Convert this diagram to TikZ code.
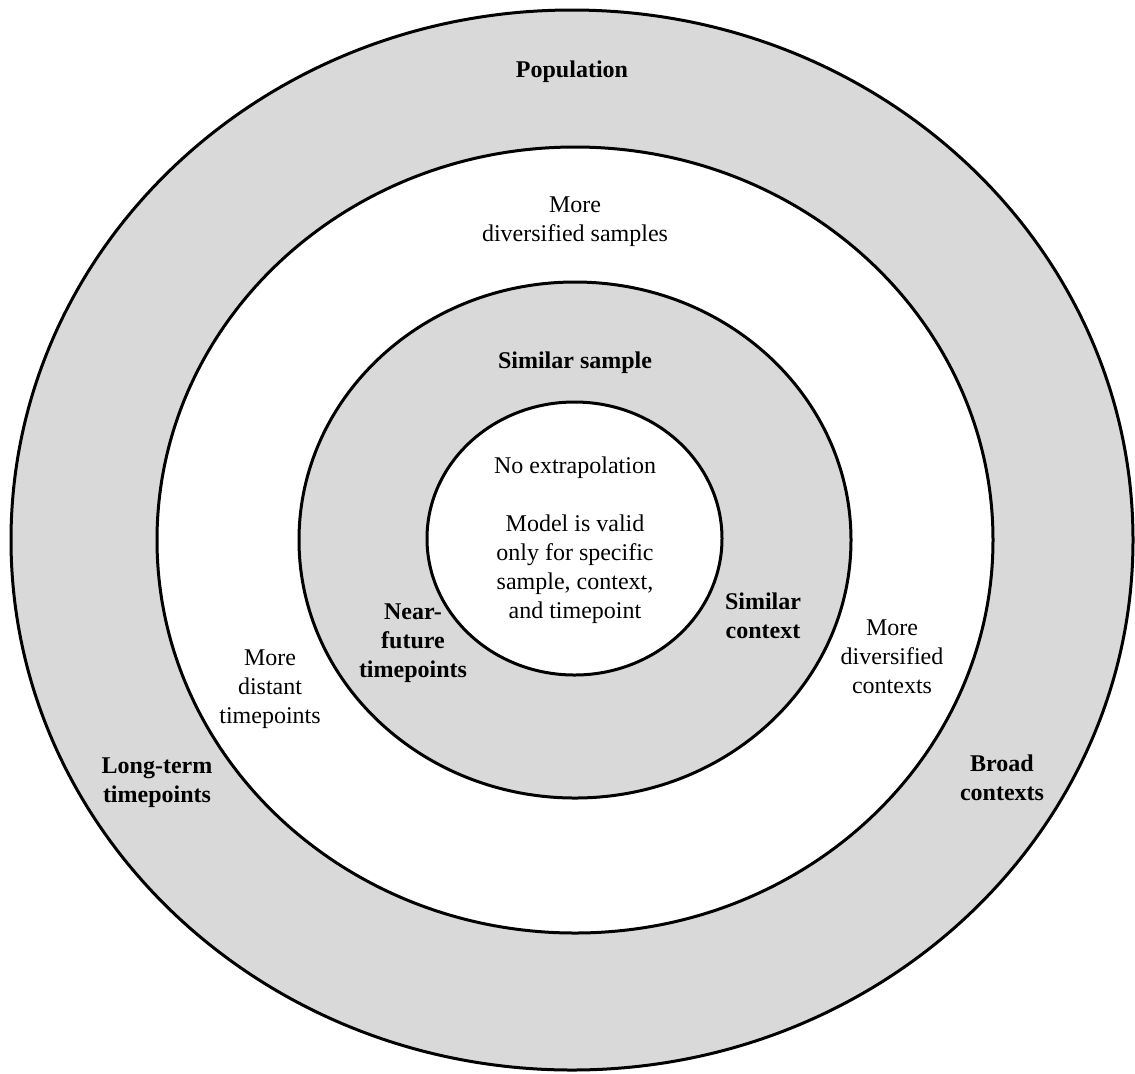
\documentclass[tikz,border=0pt]{standalone}
\usepackage{fontspec}
\setmainfont{Liberation Serif}
\definecolor{ringgray}{HTML}{D9D9D9}
\tikzset{
  ring/.style={draw=black, line width=1.5pt},
  lbl/.style={font=\fontsize{12}{14.5}\selectfont, align=center, inner sep=0pt},
  boldlbl/.style={lbl, font=\fontsize{12}{14.5}\selectfont\bfseries},
}
\begin{document}
\begin{tikzpicture}[x=0.5pt, y=-0.5pt]
  \useasboundingbox (0,0) rectangle (1135,1073);
  % rings, from the outside in
  \foreach \cx/\cy/\rx/\ry/\col in {572/540/561/530/ringgray, 575/540/418/393/white,
      575/540/276/258/ringgray, 574.5/538.5/147.5/136.5/white} {
    \filldraw[ring, fill=\col] (\cx,\cy) ellipse [x radius=\rx, y radius=\ry];
  }
  % labels
  \node[boldlbl] (population) at (572,72) {Population};
  \node[lbl] (diversesamples) at (575,222) {More\\diversified samples};
  \node[boldlbl] (similarsample) at (575,363) {Similar sample};
  \node[lbl] (core) at (575,540) {No extrapolation\\[14.5pt]Model is valid\\only for specific\\sample, context,\\and timepoint};
  \node[boldlbl] (nearfuture) at (413,643) {Near-\\future\\timepoints};
  \node[boldlbl] (similarcontext) at (763,616) {Similar\\context};
  \node[lbl] (diversecontexts) at (892,657) {More\\diversified\\contexts};
  \node[lbl] (distanttime) at (270,689) {More\\distant\\timepoints};
  \node[boldlbl] (longterm) at (157,783) {Long-term\\timepoints};
  \node[boldlbl] (broad) at (1002,778) {Broad\\contexts};
\end{tikzpicture}
\end{document}
